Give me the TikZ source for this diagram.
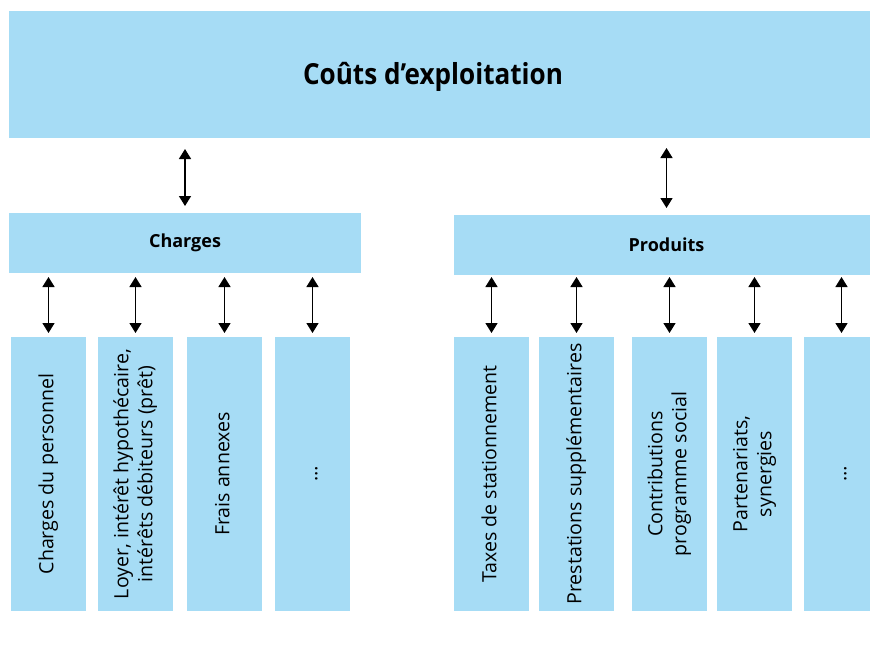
\documentclass[tikz,border=0pt]{standalone}
\usepackage{fontspec}
\setmainfont{Open Sans}
\newfontfamily\titlefont[FakeStretch=0.9]{Open Sans}
\usetikzlibrary{arrows.meta}
\definecolor{boxblue}{RGB}{166,220,245}
\tikzset{
  box/.style={fill=boxblue, draw=none, inner sep=0pt, outer sep=0pt},
  colbox/.style={box, minimum width=75pt, minimum height=274pt, font=\fontsize{19.6}{24}\selectfont},
  headbox/.style={box, minimum height=60pt, font=\bfseries\fontsize{18}{22}\selectfont},
  arr/.style={{Triangle[width=12pt,length=10pt]}-{Triangle[width=12pt,length=10pt]}, line width=1.5pt},
}
\newcommand{\rtext}[1]{\rotatebox{90}{\begin{tabular}{@{}c@{}}#1\end{tabular}}}
\begin{document}
\begin{tikzpicture}[x=1pt,y=-1pt]
\useasboundingbox (0,0) rectangle (870,646);
% top
\node[box, minimum width=870pt, minimum height=127pt] (top) at (444,74.5) {};
\node[font=\titlefont\bfseries\fontsize{29}{34}\selectfont, inner sep=0pt] (title) at (433,77) {Coûts d’exploitation};
% second level
\node[headbox, minimum width=352pt] (charges) at (185,243) {Charges};
\node[headbox, minimum width=425pt] (produits) at (666.5,245) {Produits};
% columns left
\node[colbox] (c1) at (48.5,474) {\rtext{Charges du personnel}};
\node[colbox] (c2) at (135.5,474) {\rtext{Loyer, intérêt hypothécaire,\\intérêts débiteurs (prêt)}};
\node[colbox] (c3) at (224.5,474) {\rtext{Frais annexes}};
\node[colbox] (c4) at (312.5,474) {\rtext{…}};
% columns right
\node[colbox] (p1) at (491.5,474) {\rtext{Taxes de stationnement}};
\node[colbox] (p2) at (576.5,474) {\rtext{Prestations supplémentaires}};
\node[colbox] (p3) at (669.5,474) {\rtext{Contributions\\programme social}};
\node[colbox] (p4) at (754.5,474) {\rtext{Partenariats,\\synergies}};
\node[colbox] (p5) at (841.5,474) {\rtext{…}};
% arrows
\draw[arr, shorten <=7pt, shorten >=11pt] (charges.north) -- (charges.north |- top.south);
\draw[arr, shorten <=7pt, shorten >=10pt] (produits.north) -- (produits.north |- top.south);
\foreach \c in {c1,c2,c3,c4}
  \draw[arr, shorten <=4pt, shorten >=4pt] (\c.north) -- (\c.north |- charges.south);
\foreach \c in {p1,p2,p3,p4,p5}
  \draw[arr, shorten <=4pt, shorten >=2pt] (\c.north) -- (\c.north |- produits.south);
\end{tikzpicture}
\end{document}
